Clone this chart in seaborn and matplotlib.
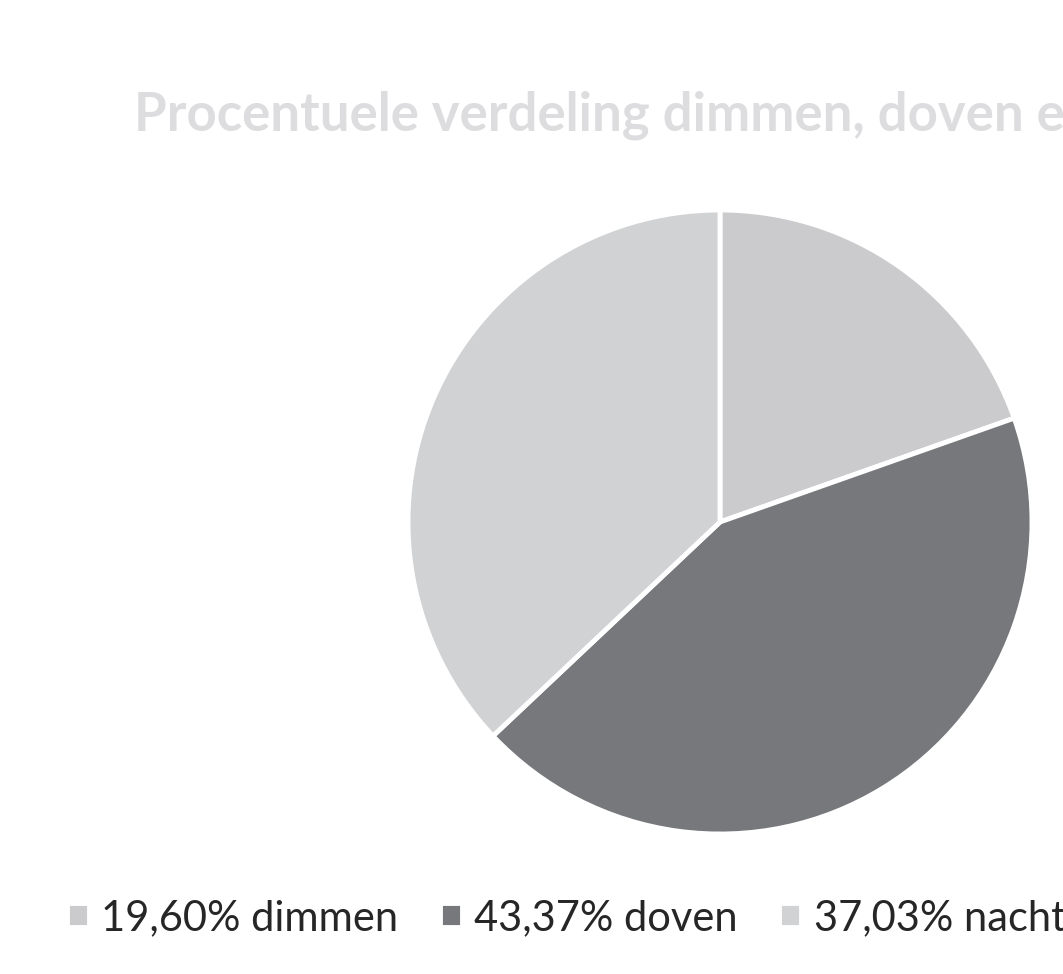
import matplotlib
matplotlib.use("Agg")
import matplotlib.pyplot as plt
import seaborn as sns

sns.set_theme(style="white")
plt.rcParams["font.family"] = ["Lato", "DejaVu Sans"]

# data
labels = ["dimmen", "doven", "nacht"]
shares = [19.60, 43.37, 37.03]
colors = ["#CBCBCD", "#77787B", "#D1D2D4"]
title = "Procentuele verdeling dimmen, doven en nacht"

W, H = 1063, 974
fig = plt.figure(figsize=(W / 100, H / 100), dpi=100)
fig.patch.set_facecolor("white")

# pie axes placed in pixel coords (centre ~ (720, 522), r ~ 312)
cx, cy, r = 720, 522, 312
ax = fig.add_axes([(cx - r) / W, (H - cy - r) / H, 2 * r / W, 2 * r / H])
wedges, _ = ax.pie(shares, colors=colors, startangle=90, counterclock=False,
                   radius=1, wedgeprops=dict(edgecolor="white", linewidth=3.5))
ax.set_xlim(-1, 1)
ax.set_ylim(-1, 1)
ax.axis("off")

fig.text(134 / W, 1 - 131 / H, title, fontsize=38, fontweight="bold",
         color="#DDDDDF", ha="left", va="baseline")

# legend handles are the wedges (white edge eats a bit of the square)
leg_labels = [f"{v:.2f}% {n}".replace(".", ",") for v, n in zip(shares, labels)]
fig.legend(wedges, leg_labels, loc="center left",
           bbox_to_anchor=(67 / W, 1 - 918 / H), ncol=3, frameon=False,
           fontsize=30, handlelength=0.52, handleheight=0.52, borderpad=0,
           borderaxespad=0, handletextpad=0.3, columnspacing=1.0,
           labelcolor="#262626")

fig.savefig("out.png", dpi=100)
